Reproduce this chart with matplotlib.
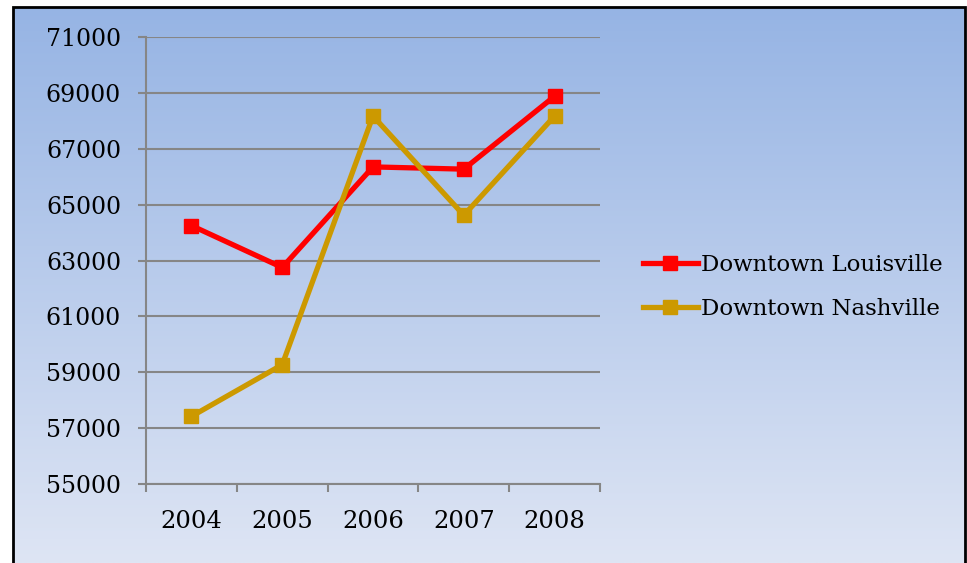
import numpy as np
import matplotlib
matplotlib.use("Agg")
import matplotlib.pyplot as plt
from matplotlib.patches import Rectangle

years = ["2004", "2005", "2006", "2007", "2008"]
louisville = [64250, 62750, 66350, 66270, 68880]
nashville = [57420, 59270, 68170, 64620, 68170]
yticks = list(range(55000, 71001, 2000))

W, H = 967, 563
fig = plt.figure(figsize=(W / 100, H / 100), dpi=100)
fig.patch.set_facecolor("white")

# gradient background inside border
bx0, by_top, bx1 = 13, 7, 965
bg = fig.add_axes([bx0 / W, 0, (bx1 - bx0) / W, 1 - by_top / H], zorder=0)
top = np.array([150, 180, 228]) / 255
bot = np.array([222, 229, 244]) / 255
t = np.linspace(0, 1, 256)[:, None]
grad = top[None, :] * (1 - t) + bot[None, :] * t
bg.imshow(grad[:, None, :].repeat(2, axis=1), aspect="auto", extent=[0, 1, 0, 1])
bg.set_axis_off()
fig.patches.append(Rectangle((bx0 / W, -0.02), (bx1 - bx0) / W, 1 - by_top / H + 0.02,
                             transform=fig.transFigure, fill=False, edgecolor="black",
                             linewidth=2, zorder=5))

ax = fig.add_axes([146 / W, 1 - 484 / H, (600 - 146) / W, (484 - 37) / H], zorder=1)
ax.patch.set_alpha(0)
x = np.arange(len(years))
ax.plot(x, louisville, color="#FF0000", lw=3.8, marker="s", ms=9.5,
        label="Downtown Louisville", zorder=3)
ax.plot(x, nashville, color="#CC9900", lw=3.8, marker="s", ms=9.5,
        label="Downtown Nashville", zorder=3)

ax.set_xlim(-0.5, 4.5)
ax.set_ylim(55000, 71000)
ax.set_yticks(yticks)
ax.set_yticklabels([str(v) for v in yticks])
ax.set_xticks(x)
ax.set_xticklabels(years)
ax.set_xticks(np.arange(-0.5, 4.6, 1), minor=True)
gc = "#868686"
ax.grid(axis="y", color=gc, lw=1.5)
ax.set_axisbelow(True)
for s in ["top", "right"]:
    ax.spines[s].set_visible(False)
ax.spines["left"].set_color(gc)
ax.spines["bottom"].set_color(gc)
ax.spines["left"].set_linewidth(1.5)
ax.spines["bottom"].set_linewidth(1.5)
ax.tick_params(axis="y", length=6, width=1.5, color=gc, pad=12,
               labelsize=17, labelfontfamily="DejaVu Serif")
ax.tick_params(axis="x", which="major", length=0, pad=19,
               labelsize=17.5, labelfontfamily="DejaVu Serif")
ax.tick_params(axis="x", which="minor", length=6, width=1.5, color=gc)

leg = fig.legend(*ax.get_legend_handles_labels(), loc="center left",
                 bbox_to_anchor=(622 / W, 1 - 287 / H), frameon=False,
                 prop={"family": "DejaVu Serif", "size": 16.5},
                 handlelength=2.4, handletextpad=0.15, labelspacing=0.95)

fig.savefig("out.png", dpi=100)
